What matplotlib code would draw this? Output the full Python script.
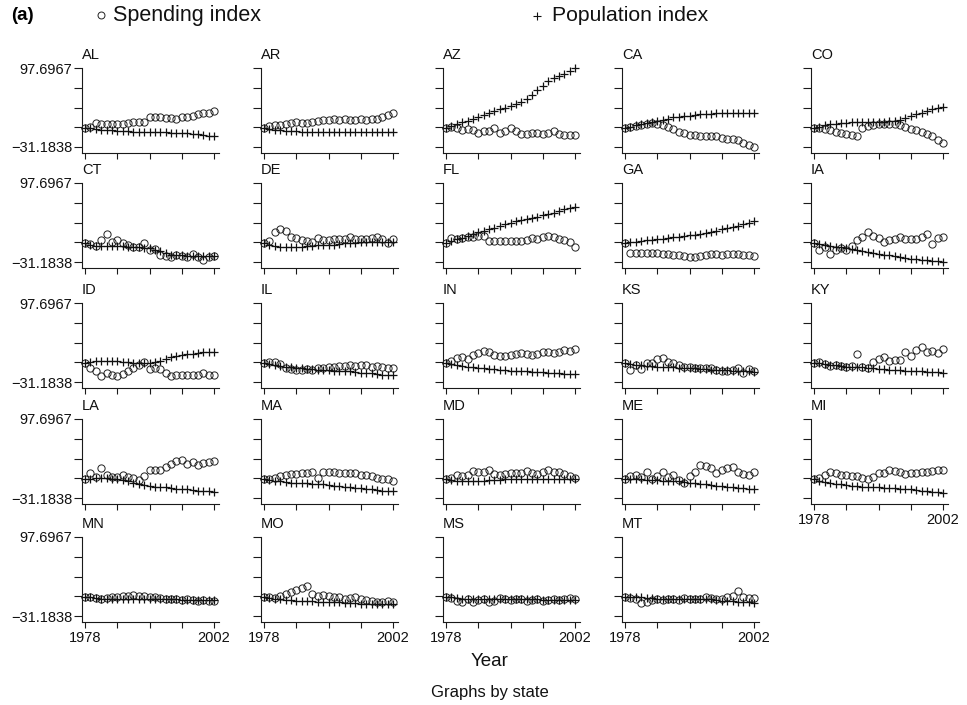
import matplotlib
matplotlib.use("Agg")
import matplotlib.pyplot as plt
from matplotlib.lines import Line2D

plt.rcParams['font.family'] = ['Liberation Sans', 'DejaVu Sans']

years = list(range(1978, 2003))
year_ticks = [1978, 1984, 1990, 1996, 2002]
y_min_label = -31.1838
y_max_label = 97.6967
states = ["AL", "AR", "AZ", "CA", "CO",
          "CT", "DE", "FL", "GA", "IA",
          "ID", "IL", "IN", "KS", "KY",
          "LA", "MA", "MD", "ME", "MI",
          "MN", "MO", "MS", "MT"]

spend_AL = [0, 2, 8, 7, 7, 6, 7, 7, 8, 10, 9, 9, 17, 17, 17, 16, 16, 15, 18, 18, 20, 22, 24, 25, 27]
pop_AL = [0, -1, -2, -3, -3.5, -4, -4.5, -5, -5.5, -6, -6, -6.5, -7, -7, -7.5, -7.5, -8, -8, -8.5, -9, -9.5, -10.5, -11.5, -12.5, -13]
spend_AR = [0, 3, 4, 5, 6, 8, 10, 8, 8, 9, 12, 13, 13, 14, 13, 14, 13, 13, 14, 13, 14, 15, 18, 21, 24]
pop_AR = [0, -2, -3, -4, -5, -5, -5.5, -6, -6, -6, -6.5, -6.5, -6.5, -6.5, -6.5, -6.5, -6.5, -6.5, -6.5, -6.5, -6.5, -6.5, -6.5, -7, -7]
spend_AZ = [0, 2, 0, -3, -2, -4, -8, -5, -5, 0, -8, -5, 0, -5, -10, -10, -9, -8, -10, -8, -5, -10, -12, -11, -12]
pop_AZ = [0, 3, 6, 9, 12, 15, 17.5, 21, 24, 27, 30, 33, 36, 39, 43, 47.5, 53, 61, 68, 76, 81, 85, 88, 93, 97.7]
spend_CA = [0, 1, 3, 5, 7, 8, 7, 5, 2, -2, -6, -9, -11, -12, -13, -13, -13, -14, -17, -18, -18, -20, -24, -28, -31]
pop_CA = [0, 2, 4, 6, 8, 9, 11, 13, 15, 17, 18, 19, 20, 21, 22, 23, 23, 24, 24, 24, 24, 24, 25, 25, 25]
spend_CO = [0, -1, -2, -4, -6, -8, -10, -11, -13, 0, 3, 5, 6, 6, 6, 7, 5, 2, -2, -4, -7, -10, -14, -19, -25]
pop_CO = [0, 2, 4, 6, 7, 8, 8.5, 9, 9, 9, 9, 9.5, 10, 10, 10.5, 11, 13, 16, 19, 22, 25, 27, 30, 32, 34]

spend_CT = [0, -2, -5, 5, 15, 2, 4, 0, -4, -6, -7, -1, -12, -10, -20, -22, -23, -20, -22, -23, -18, -23, -28, -23, -21]
pop_CT = [0, -3, -5, -5, -5, -5, -5, -5, -6, -6, -7, -8, -9, -11, -14, -17, -19, -20, -20, -21, -21, -21, -22, -22, -22]
spend_DE = [0, 3, 18, 23, 19, 10, 8, 5, 3, 2, 8, 4, 5, 7, 7, 7, 9, 7, 7, 7, 8, 10, 7, 0, 7]
pop_DE = [0, -3, -5, -6, -6, -6, -6, -6, -5, -5, -4, -4, -3, -3, -2, -1, 0, 0, 1, 1, 1, 2, 2, 2, 2]
spend_FL = [0, 8, 6, 8, 10, 10, 12, 12, 3, 3, 3, 3, 3, 3, 3, 5, 8, 7, 10, 12, 10, 7, 5, 2, -6]
pop_FL = [0, 3, 6, 8, 11, 14, 17, 19.5, 22, 25, 27.5, 30, 33, 35, 37, 39, 41, 43, 45, 47, 49.5, 52, 54.5, 57, 59]
spend_GA = [0, -17, -17, -17, -17, -17, -17, -18, -18, -19, -20, -22, -23, -23, -22, -19, -18, -18, -19, -18, -18, -18, -19, -19, -21]
pop_GA = [0, 1, 2, 3, 4, 5, 6, 7, 8, 9, 10, 11, 12.5, 13.5, 15, 16.5, 18, 20, 22, 24, 26, 28, 30, 32.5, 35]
spend_IA = [0, -12, -7, -18, -12, -8, -12, -5, 5, 10, 17, 12, 8, 2, 5, 7, 10, 6, 7, 6, 9, 14, -2, 8, 10]
pop_IA = [0, -1.5, -3, -4.5, -6, -7.5, -9, -10.5, -12, -13.5, -15, -17, -18.5, -19.5, -20.5, -21.5, -23, -24.5, -25.5, -26.5, -27.5, -28.5, -29.5, -30.3, -31]

spend_ID = [0, -8, -14, -22, -17, -20, -22, -18, -14, -8, -3, 2, -10, -8, -10, -16, -22, -20, -20, -20, -20, -19, -17, -20, -20]
pop_ID = [0, 2, 2.5, 3, 3, 3, 3, 2, 1, 0, -1, -1, 0, 1, 3, 6, 9, 11, 12.5, 14, 15, 16, 17, 18, 18]
spend_IL = [0, 1, 1, -2, -9, -10, -12, -11, -10, -11, -9, -8, -7, -6, -5, -5, -4, -5, -4, -4, -6, -5, -7, -8, -8]
pop_IL = [0, -2, -4, -5, -6, -7, -8, -9, -10, -10, -11, -12, -12, -13, -13, -14, -14, -15, -16, -16, -17, -18, -19, -20, -20]
spend_IN = [0, 3, 8, 10, 7, 13, 16, 19, 17, 13, 11, 12, 13, 14, 16, 15, 13, 15, 17, 17, 16, 18, 21, 20, 22]
pop_IN = [0, -2, -4, -5, -6, -7, -8, -9, -10, -10.5, -11, -12, -12.5, -13, -13.5, -14, -14.5, -15, -15.5, -16, -16.5, -17, -17.5, -18, -18.5]
spend_KS = [0, -12, -4, -10, -1, 0, 6, 8, 2, -1, -3, -6, -7, -8, -8, -8, -9, -12, -13, -14, -12, -8, -17, -10, -14]
pop_KS = [0, -2, -3, -4, -5, -5, -6, -6, -7, -7, -8, -8, -9, -9, -10, -10, -11, -11, -12, -12, -13, -13, -14, -14, -15]
spend_KY = [0, 2, -2, -5, -3, -5, -6, -5, 15, -7, -8, 1, 6, 10, 3, 5, 5, 18, 11, 21, 26, 17, 20, 16, 23]
pop_KY = [0, -1, -2, -3, -4, -5, -6, -6.5, -7, -7.5, -8, -9, -10, -10.5, -11, -11.5, -12, -12.5, -13, -13.5, -14, -14.5, -15, -15.5, -16]

spend_LA = [0, 10, 3, 18, 6, 3, 3, 6, 3, 2, -2, 4, 14, 14, 14, 20, 24, 29, 30, 24, 27, 23, 26, 27, 29]
pop_LA = [0, 0, 1, 1, 1, 0, -1, -2, -4, -6, -8, -10, -12, -13, -13.5, -14, -15, -16, -16.5, -17, -18, -19, -20, -20.5, -21]
spend_MA = [0, 0, 2, 4, 6, 8, 8, 10, 10, 11, 2, 11, 11, 11, 10, 9, 10, 9, 7, 6, 5, 2, 0, -1, -3]
pop_MA = [0, -2, -3, -4, -5, -6, -6, -7, -7, -8, -8, -9, -10, -11, -12, -13, -14, -15, -15.5, -16, -17, -18, -19, -19.5, -20]
spend_MD = [0, 2, 6, 5, 7, 13, 11, 11, 14, 8, 7, 8, 9, 9, 10, 13, 10, 8, 12, 14, 12, 11, 8, 5, 1]
pop_MD = [0, -2, -3, -4, -4, -4, -3.5, -3, -2.5, -2, -1.5, -1, -0.5, 0, 0, 0, 0, 0, 0, 0, 0, 0, 0, 0, 0]
spend_ME = [0, 4, 6, 3, 12, -1, 4, 12, 3, 6, -2, -6, 4, 11, 23, 21, 17, 10, 15, 18, 19, 12, 8, 7, 12]
pop_ME = [0, -1, -1, -1, -2, -2, -2, -3, -3, -3, -4, -5, -6, -7, -8, -9, -10, -11, -12, -13, -14, -15, -15.5, -16, -17]
spend_MI = [0, 2, 6, 11, 9, 7, 6, 4, 4, 2, 0, 3, 10, 9, 14, 13, 11, 8, 10, 10, 11, 11, 13, 14, 15]
pop_MI = [0, -3, -5, -7, -8, -9, -10, -11, -12, -12.5, -13, -13.5, -14, -14.5, -15, -15.5, -16, -16.5, -17, -18, -19, -20, -21, -22, -23]

spend_MN = [0, -1, -2, -3, -2, -1, 0, 1, 2, 3, 2, 1, 0, -1, -2, -3, -3, -4, -5, -4, -5, -6, -5, -6, -7]
pop_MN = [0, -1, -2, -3, -3, -3, -3, -3, -3, -3, -3, -3, -3, -4, -4, -4, -4, -4, -5, -5, -5, -5, -5, -5, -5]
spend_MO = [0, -1, -2, 2, 5, 8, 12, 15, 18, 5, 2, 3, 2, 0, -1, -3, -2, 0, -3, -5, -7, -8, -8, -7, -8]
pop_MO = [0, -2, -3, -4, -5, -5, -6, -6, -7, -7, -8, -8, -8, -9, -9, -10, -10, -10, -11, -11, -11, -12, -12, -12, -12]
spend_MS = [0, -2, -6, -8, -3, -8, -5, -4, -8, -7, -2, -3, -5, -4, -3, -6, -5, -4, -6, -5, -3, -5, -4, -2, -3]
pop_MS = [0, -1, -2, -3, -3, -3, -3, -3, -4, -4, -4, -4, -4, -4, -4, -4, -4, -4, -5, -5, -5, -5, -5, -5, -5]
spend_MT = [0, -2, -4, -10, -8, -5, -3, -5, -4, -3, -5, -2, -3, -4, -3, -1, -2, -3, -3, 0, 2, 10, 0, -2, -2]
pop_MT = [0, -1, -1, -1, -2, -2, -3, -3, -3, -3, -3, -3, -3, -3, -4, -4, -4, -5, -6, -6, -7, -8, -9, -9, -10]

spending = [spend_AL, spend_AR, spend_AZ, spend_CA, spend_CO,
            spend_CT, spend_DE, spend_FL, spend_GA, spend_IA,
            spend_ID, spend_IL, spend_IN, spend_KS, spend_KY,
            spend_LA, spend_MA, spend_MD, spend_ME, spend_MI,
            spend_MN, spend_MO, spend_MS, spend_MT]
population = [pop_AL, pop_AR, pop_AZ, pop_CA, pop_CO,
              pop_CT, pop_DE, pop_FL, pop_GA, pop_IA,
              pop_ID, pop_IL, pop_IN, pop_KS, pop_KY,
              pop_LA, pop_MA, pop_MD, pop_ME, pop_MI,
              pop_MN, pop_MO, pop_MS, pop_MT]

W, H = 967, 705
fig = plt.figure(figsize=(W / 100, H / 100), dpi=100)

col_left = [82, 261, 443, 622, 811]
row_top = [68, 183, 303, 419, 537]
panel_w = 137
tick_span_px = 79
axis_gap_px = 6
panel_h = tick_span_px + axis_gap_px
units_per_px = (y_max_label - y_min_label) / tick_span_px
ylim_low = y_min_label - axis_gap_px * units_per_px
px_per_year = 129 / 24.0
xlim = (1978 - 3 / px_per_year, 1978 + (panel_w - 3) / px_per_year)

ytick_vals = [y_min_label + i * (y_max_label - y_min_label) / 4 for i in range(5)]
line_col = '#1a1a1a'
n = len(states)

for i, st in enumerate(states):
    r, c = divmod(i, 5)
    left = col_left[c]
    top = row_top[r]
    ax = fig.add_axes([left / W, 1 - (top + panel_h) / H, panel_w / W, panel_h / H])
    ax.set_xlim(*xlim)
    ax.set_ylim(ylim_low, y_max_label)
    ax.plot(years, spending[i], linestyle='none', marker='o', markersize=5.2,
            markerfacecolor='none', markeredgecolor='#222222', markeredgewidth=0.7,
            clip_on=False, zorder=3)
    ax.plot(years, population[i], linestyle='none', marker='+', markersize=5.8,
            markeredgecolor='#111111', markeredgewidth=0.9, clip_on=False, zorder=3)
    for s in ['top', 'right']:
        ax.spines[s].set_visible(False)
    ax.spines['left'].set_bounds(ylim_low, y_max_label)
    ax.spines['left'].set_color(line_col)
    ax.spines['bottom'].set_color(line_col)
    ax.spines['left'].set_linewidth(0.8)
    ax.spines['bottom'].set_linewidth(0.8)
    ax.set_yticks(ytick_vals)
    ax.set_xticks(year_ticks)
    ax.tick_params(axis='y', direction='out', length=5.5, width=0.8, color=line_col,
                   labelsize=10.5, pad=1.5, labelcolor='#111111')
    ax.tick_params(axis='x', direction='out', length=4.2, width=0.8, color=line_col,
                   labelsize=10.5, pad=2, labelcolor='#111111')
    if c == 0:
        ax.set_yticklabels(['\u221231.1838', '', '', '', '97.6967'])
    else:
        ax.set_yticklabels([''] * 5)
    below = i + 5
    if below >= n:
        ax.set_xticklabels(['1978', '', '', '', '2002'])
    else:
        ax.set_xticklabels([''] * 5)
    ax.patch.set_visible(False)
    fig.text(left / W, 1 - (top - 9) / H, st, fontsize=10.5, ha='left', va='baseline',
             color='#111111')

# legend / header
fig.text(11 / W, 1 - 20 / H, '(a)', fontsize=13.5, fontweight='bold', ha='left', va='baseline')
fig.add_artist(Line2D([101 / W], [1 - 15 / H], transform=fig.transFigure, marker='o',
                      markersize=5, markerfacecolor='none', markeredgecolor='#222222',
                      markeredgewidth=0.7, linestyle='none'))
fig.text(113 / W, 1 - 21 / H, 'Spending index', fontsize=15.5, ha='left', va='baseline',
         color='#111111')
fig.add_artist(Line2D([537 / W], [1 - 16 / H], transform=fig.transFigure, marker='+',
                      markersize=5.5, markeredgecolor='#111111', markeredgewidth=0.8,
                      linestyle='none'))
fig.text(552 / W, 1 - 21 / H, 'Population index', fontsize=15.2, ha='left', va='baseline',
         color='#111111')

fig.text(490 / W, 1 - 666 / H, 'Year', fontsize=13.5, ha='center', va='baseline', color='#111111')
fig.text(490 / W, 1 - 697 / H, 'Graphs by state', fontsize=12, ha='center', va='baseline',
         color='#111111')

fig.savefig('out.png', dpi=100, facecolor='white')
